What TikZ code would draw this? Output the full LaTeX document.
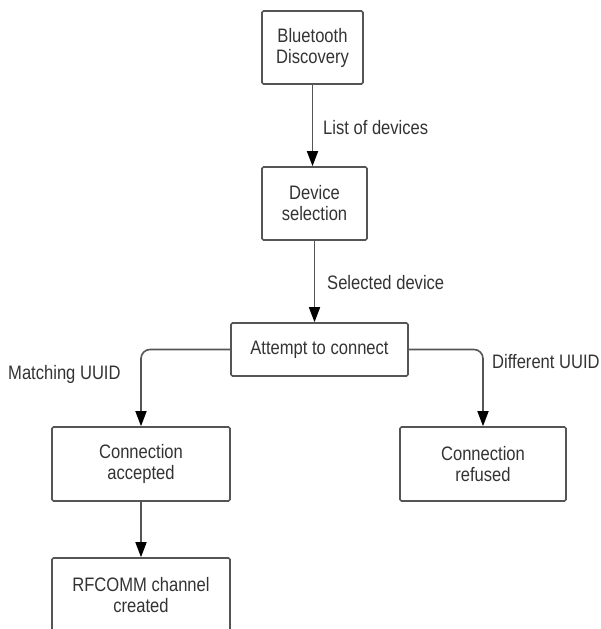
\documentclass[tikz,border=0pt]{standalone}
\usepackage{fontspec}
\setmainfont{Liberation Sans}
\newfontfamily\condfont[FakeStretch=0.85]{Liberation Sans}
\usetikzlibrary{arrows.meta}
\definecolor{linegray}{HTML}{555555}
\definecolor{textgray}{HTML}{333333}
\tikzset{
  box/.style={draw=linegray, line width=1.6pt, rounded corners=1.5pt, align=center,
    text=textgray, font=\condfont\fontsize{19.5}{21}\selectfont, inner sep=0pt},
  flow/.style={draw=linegray, line width=1.6pt, -{Triangle[width=11pt,length=15pt,fill=black,color=black]}, rounded corners=9pt},
  lbl/.style={text=textgray, font=\condfont\fontsize{19.5}{21}\selectfont, inner sep=0pt, anchor=west}
}
\begin{document}
\begin{tikzpicture}[x=1pt,y=-1pt]
\useasboundingbox (0,0) rectangle (600,629);
\clip (0,0) rectangle (600,629);
\node[box, minimum width=101pt, minimum height=73pt] (b1) at (312.5,47.5) {Bluetooth\\Discovery};
\node[box, minimum width=105pt, minimum height=73pt] (b2) at (314.5,203.5) {Device\\selection};
\node[box, minimum width=177pt, minimum height=53pt] (b3) at (319.5,349.5) {Attempt to connect};
\node[box, minimum width=178pt, minimum height=74pt] (b4) at (141,464) {Connection\\accepted};
\node[box, minimum width=166pt, minimum height=74pt] (b5) at (483,464) {Connection\\refused};
\node[box, minimum width=178pt, minimum height=74pt] (b6) at (141,595) {RFCOMM channel\\created};
\draw[flow] (b1.south) -- (b1.south |- b2.north);
\draw[flow] (b2.south) -- (b2.south |- b3.north);
\draw[flow] (b3.west) -| (b4.north);
\draw[flow] (b3.east) -| (b5.north);
\draw[flow] (b4.south) -- (b6.north);
\node[lbl] (l1) at (323,128) {List of devices};
\node[lbl] (l2) at (327,283) {Selected device};
\node[lbl] (l3) at (8,374) {Matching UUID};
\node[lbl] (l4) at (492,362) {Different UUID};
\end{tikzpicture}
\end{document}
